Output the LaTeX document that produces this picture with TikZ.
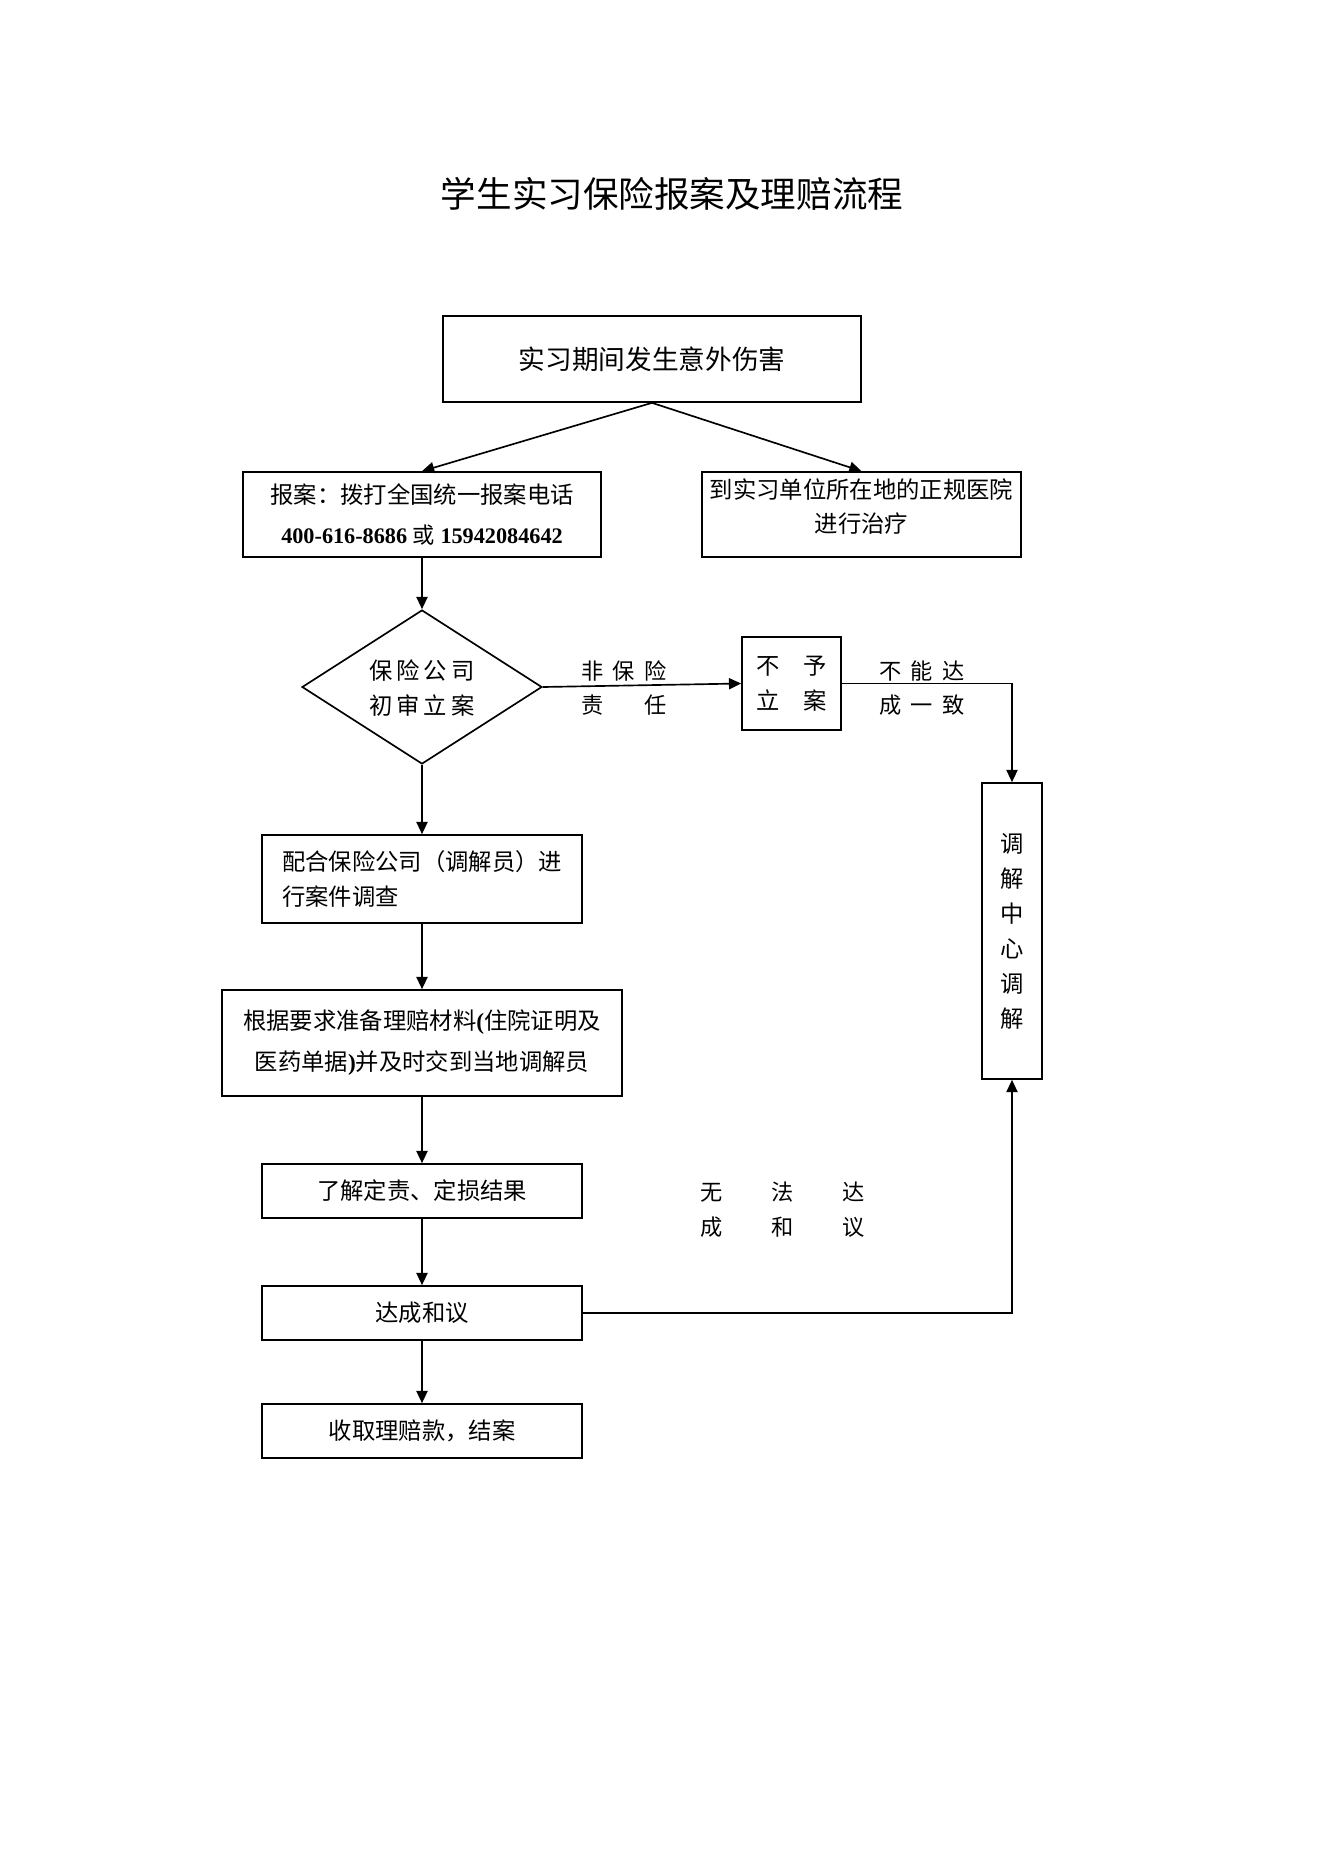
\documentclass[tikz,border=0pt]{standalone}
\usepackage{fontspec}
\setmainfont{Noto Sans CJK SC}
\newfontfamily\tnr{Liberation Serif}
\usetikzlibrary{arrows.meta,shapes.geometric}
\newcommand\myfs[2]{\fontsize{#1pt}{#2pt}\selectfont}
\begin{document}
\begin{tikzpicture}[x=0.45pt,y=-0.45pt,
  box/.style={draw,line width=0.75pt,inner sep=0pt,align=center,font=\myfs{10.5}{15.6}},
  arr/.style={-{Triangle[length=5.5pt,width=5pt]},line width=0.75pt},
  ln/.style={line width=0.75pt},
  lbl/.style={inner sep=0pt,font=\myfs{10}{15.6}}]
\useasboundingbox (0,0) rectangle (1322,1871);
% title
\node[inner sep=0pt,font=\myfs{16}{20}] (title) at (672,194) {学生实习保险报案及理赔流程};
% boxes
\node[box,minimum width=418*0.45pt,minimum height=86*0.45pt,font=\myfs{12}{16}] (top) at (652,359) {实习期间发生意外伤害};
\node[box,minimum width=358*0.45pt,minimum height=85*0.45pt,font=\myfs{10.5}{18.4}] (rep) at (422,514.5)
  {报案：拨打全国统一报案电话\\{\tnr\bfseries\myfs{10}{18.4}400-616-8686 }{\myfs{10}{18.4}或}{\tnr\bfseries\myfs{10}{18.4} 15942084642}};
\node[box,minimum width=319*0.45pt,minimum height=85*0.45pt] (hos) at (861.5,514.5)
  {到实习单位所在地的正规医院\\进行治疗\rule[-8pt]{0pt}{1pt}};
\node[draw,diamond,line width=0.75pt,inner sep=0pt,minimum width=240*0.45pt,minimum height=154*0.45pt] (dia) at (422,687) {};
\node[lbl,align=center,font=\myfs{10.5}{15.4}] (diat) at (422,688) {保\,险\,公\,司\\初\,审\,立\,案};
\node[box,minimum width=99*0.45pt,minimum height=93*0.45pt] (bu) at (791.5,683.5) {不\hspace{1em}予\\立\hspace{1em}案};
\node[box,minimum width=60*0.45pt,minimum height=296*0.45pt,font=\myfs{10.5}{15.75}] (tj) at (1012,931) {调\\解\\中\\心\\调\\解};
\node[box,minimum width=320*0.45pt,minimum height=88*0.45pt,align=left] (coop) at (422,879) {配合保险公司（调解员）进\\行案件调查};
\node[box,minimum width=400*0.45pt,minimum height=106*0.45pt,font=\myfs{10.5}{18.4}] (prep) at (422,1043)
  {根据要求准备理赔材料{\tnr\bfseries (}住院证明及\\医药单据{\tnr\bfseries )}并及时交到当地调解员};
\node[box,minimum width=320*0.45pt,minimum height=54*0.45pt] (know) at (422,1191) {了解定责、定损结果};
\node[box,minimum width=320*0.45pt,minimum height=54*0.45pt] (agree) at (422,1313) {达成和议};
\node[box,minimum width=320*0.45pt,minimum height=54*0.45pt] (collect) at (422,1431) {收取理赔款，结案};
% labels
\node[lbl] (l1a) at (624,671) {非\hspace{0.42em}保\hspace{0.42em}险};
\node[lbl] (l1b) at (624,705) {责\hspace{1.84em}任};
\node[lbl] (l2a) at (922,671) {不\hspace{0.42em}能\hspace{0.42em}达};
\node[lbl] (l2b) at (922,705) {成\hspace{0.42em}一\hspace{0.42em}致};
\node[lbl] (l3a) at (783,1192) {无\hspace{2.2em}法\hspace{2.2em}达};
\node[lbl] (l3b) at (783,1227) {成\hspace{2.2em}和\hspace{2.2em}议};
% connectors
\draw[arr] (top.south) -- (rep.north);
\draw[arr] (top.south) -- (hos.north);
\draw[arr] (rep.south) -- (dia.north);
\draw[arr] (dia.east) -- (bu.west);
\draw[arr] (bu.east) -| (tj.north);
\draw[arr] (dia.south) -- (coop.north);
\draw[arr] (coop.south) -- (prep.north);
\draw[arr] (prep.south) -- (know.north);
\draw[arr] (know.south) -- (agree.north);
\draw[arr] (agree.south) -- (collect.north);
\draw[arr] (agree.east) -| (tj.south);
\end{tikzpicture}
\end{document}
